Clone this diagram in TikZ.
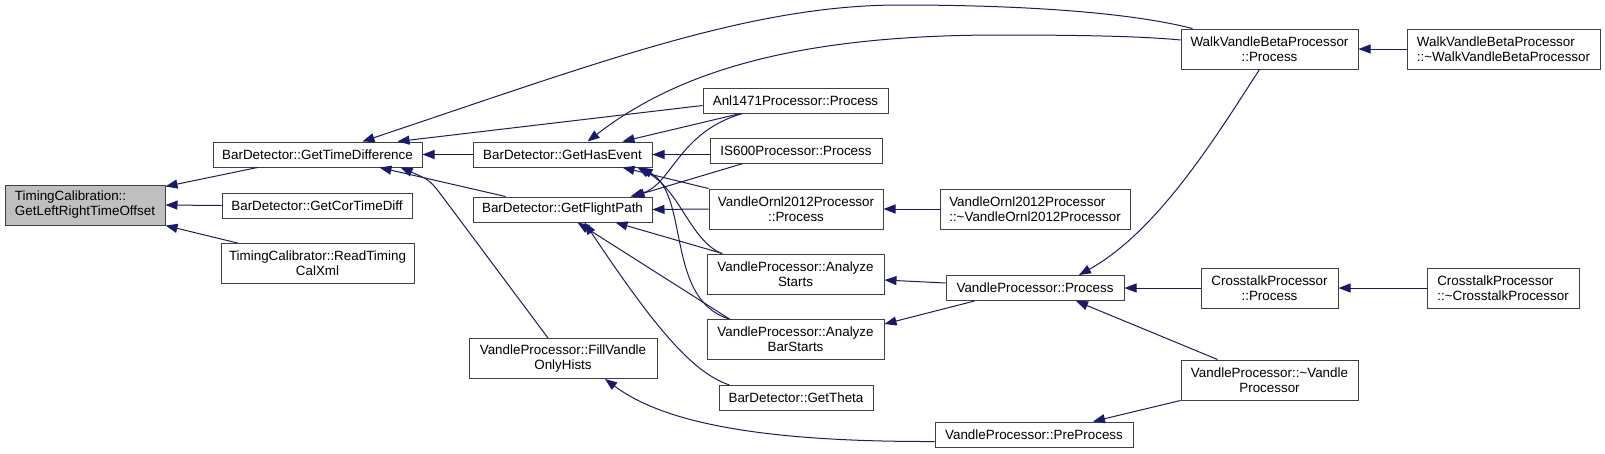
\documentclass[tikz,border=0pt]{standalone}
\usepackage{fontspec}
\setmainfont{Liberation Sans}
\usepackage{xcolor}
\usepackage{tikz}
\usetikzlibrary{arrows.meta}
\definecolor{callnavy}{HTML}{191970}
\definecolor{boxline}{HTML}{404040}
\definecolor{rootgray}{HTML}{BFBFBF}
\newcommand{\fnfont}{\fontsize{13.4pt}{15pt}\selectfont}
\tikzset{
  funcbox/.style={
    rectangle, draw=boxline, fill=white, line width=1pt,
    minimum width=#1, minimum height=25pt,
    font=\fnfont, align=center,
    inner sep=0pt
  },
  funcbox/.default=180pt,
  tallbox/.style={funcbox=#1, minimum height=40pt},
  tallbox/.default=180pt,
  rootbox/.style={tallbox=#1, fill=rootgray},
  callarrow/.style={
    {Triangle[length=12pt, width=9pt]}-, line width=1pt, color=callnavy
  },
}

\begin{document}
\begin{tikzpicture}[x=1pt, y=-1pt]
\useasboundingbox (0,0) rectangle (1605,453);

% ── functions, column by column ──
\node[rootbox=160pt, align=left] (tcal) at (85,205) {TimingCalibration::\\GetLeftRightTimeOffset};

\node[funcbox=209pt] (gtd) at (317.5,154.5) {BarDetector::GetTimeDifference};
\node[funcbox=190pt] (gcor) at (317,205.5) {BarDetector::GetCorTimeDiff};
\node[tallbox=193pt] (rtcx) at (317.5,263.5) {TimingCalibrator::ReadTiming\\CalXml};

\node[funcbox=179pt] (ghe) at (562.5,154.5) {BarDetector::GetHasEvent};
\node[funcbox=179pt] (gfp) at (562.5,209.5) {BarDetector::GetFlightPath};
\node[tallbox=188pt] (fvoh) at (563,358.5) {VandleProcessor::FillVandle\\OnlyHists};

\node[funcbox=185pt] (anl) at (795.5,100.5) {Anl1471Processor::Process};
\node[funcbox=172pt] (is600) at (796,150.5) {IS600Processor::Process};
\node[tallbox=174pt] (vorp) at (796,209) {VandleOrnl2012Processor\\::Process};
\node[tallbox=177pt] (vas) at (795.5,274) {VandleProcessor::Analyze\\Starts};
\node[tallbox=177pt] (vabs) at (795.5,339.5) {VandleProcessor::Analyze\\BarStarts};
\node[funcbox=154pt] (gth) at (796,398) {BarDetector::GetTheta};

\node[tallbox=190pt, align=left] (vord) at (1035,209) {VandleOrnl2012Processor\\::\textasciitilde VandleOrnl2012Processor};
\node[funcbox=178pt] (vpp) at (1035,288) {VandleProcessor::Process};
\node[funcbox=198pt] (vpre) at (1034,434.5) {VandleProcessor::PreProcess};

\node[tallbox=177pt] (wvbp) at (1269.5,49) {WalkVandleBetaProcessor\\::Process};
\node[tallbox=137pt] (ctp) at (1269.5,288) {CrosstalkProcessor\\::Process};
\node[tallbox=177pt] (vdtor) at (1269.5,380) {VandleProcessor::\textasciitilde Vandle\\Processor};

\node[tallbox=193pt, align=left] (wvbd) at (1503.5,49) {WalkVandleBetaProcessor\\::\textasciitilde WalkVandleBetaProcessor};
\node[tallbox=152pt, align=left] (ctd) at (1503,288) {CrosstalkProcessor\\::\textasciitilde CrosstalkProcessor};

% ── calls, arrow at the called function ──
\draw[callarrow] ([yshift=-2pt]tcal.north east) -- ([xshift=-60pt]gtd.south);
\draw[callarrow] (tcal.east) -- (gcor.west);
\draw[callarrow] (tcal.south east) -- ([xshift=-80pt]rtcx.north);

\draw[callarrow] (gtd.east) -- (ghe.west);
\draw[callarrow] ([xshift=62pt]gtd.south) -- ([xshift=-57pt]gfp.north);
\draw[callarrow] ([xshift=80pt]gtd.north) -- ([yshift=-5pt]anl.west);
\draw[callarrow] ([xshift=45pt]gtd.north) .. controls (600,62) and (750,5) .. (900,5)
  .. controls (1000,5) and (1120,10) .. ([xshift=-77pt]wvbp.north);
\draw[callarrow] ([xshift=83pt]gtd.south) .. controls (430,180) .. (445,200) -- ([xshift=-15pt]fvoh.north);

\draw[callarrow] ([xshift=25pt]ghe.north) .. controls (680,70) and (800,35) .. (1000,35)
  .. controls (1100,35) and (1150,37) .. ([yshift=9pt]wvbp.west);
\draw[callarrow] ([xshift=60pt]ghe.north) -- ([xshift=-55pt]anl.south);
\draw[callarrow] (ghe.east) -- (is600.west |- ghe.east);
\draw[callarrow] ([xshift=60pt]ghe.south) -- (vorp.north west);
\draw[callarrow] ([xshift=75pt]ghe.south) .. controls (680,190) and (690,240) .. ([xshift=15pt]vas.north west);
\draw[callarrow] ([xshift=78pt]ghe.south) .. controls (690,195) and (665,300) .. ([xshift=23pt]vabs.north west);

\draw[callarrow] (gfp.east) -- (vorp.west);
\draw[callarrow] ([xshift=68pt]gfp.north) .. controls (672,185) and (678,132) .. ([xshift=-53pt]anl.south);
\draw[callarrow] ([xshift=70pt]gfp.north) -- ([xshift=-53pt]is600.south);
\draw[callarrow] ([xshift=53pt]gfp.south) -- ([xshift=16pt]vas.north west);
\draw[callarrow] ([xshift=15pt]gfp.south) -- ([xshift=23pt]vabs.north west);
\draw[callarrow] ([xshift=22pt]gfp.south) .. controls (650,320) and (690,372) .. ([xshift=11pt]gth.north west);

\draw[callarrow] (wvbp.east) -- (wvbd.west);
\draw[callarrow] (vorp.east) -- (vord.west);
\draw[callarrow] ([yshift=-6pt]vas.east) -- ([yshift=5pt]vpp.west);
\draw[callarrow] ([yshift=-5pt]vabs.north east) -- ([xshift=29pt]vpp.south west);
\draw[callarrow] ([xshift=44pt]vpp.north) .. controls (1160,230) and (1220,130) .. ([xshift=-10pt]wvbp.south);
\draw[callarrow] (vpp.east) -- (ctp.west);
\draw[callarrow] (ctp.east) -- (ctd.west);
\draw[callarrow] ([xshift=41pt]vpp.south) -- ([xshift=-52pt]vdtor.north);
\draw[callarrow] ([xshift=59pt]vpre.north) -- (vdtor.south west);
\draw[callarrow] ([xshift=42pt]fvoh.south) .. controls (660,420) and (750,442) .. ([yshift=-7pt]vpre.west);

\end{tikzpicture}
\end{document}
